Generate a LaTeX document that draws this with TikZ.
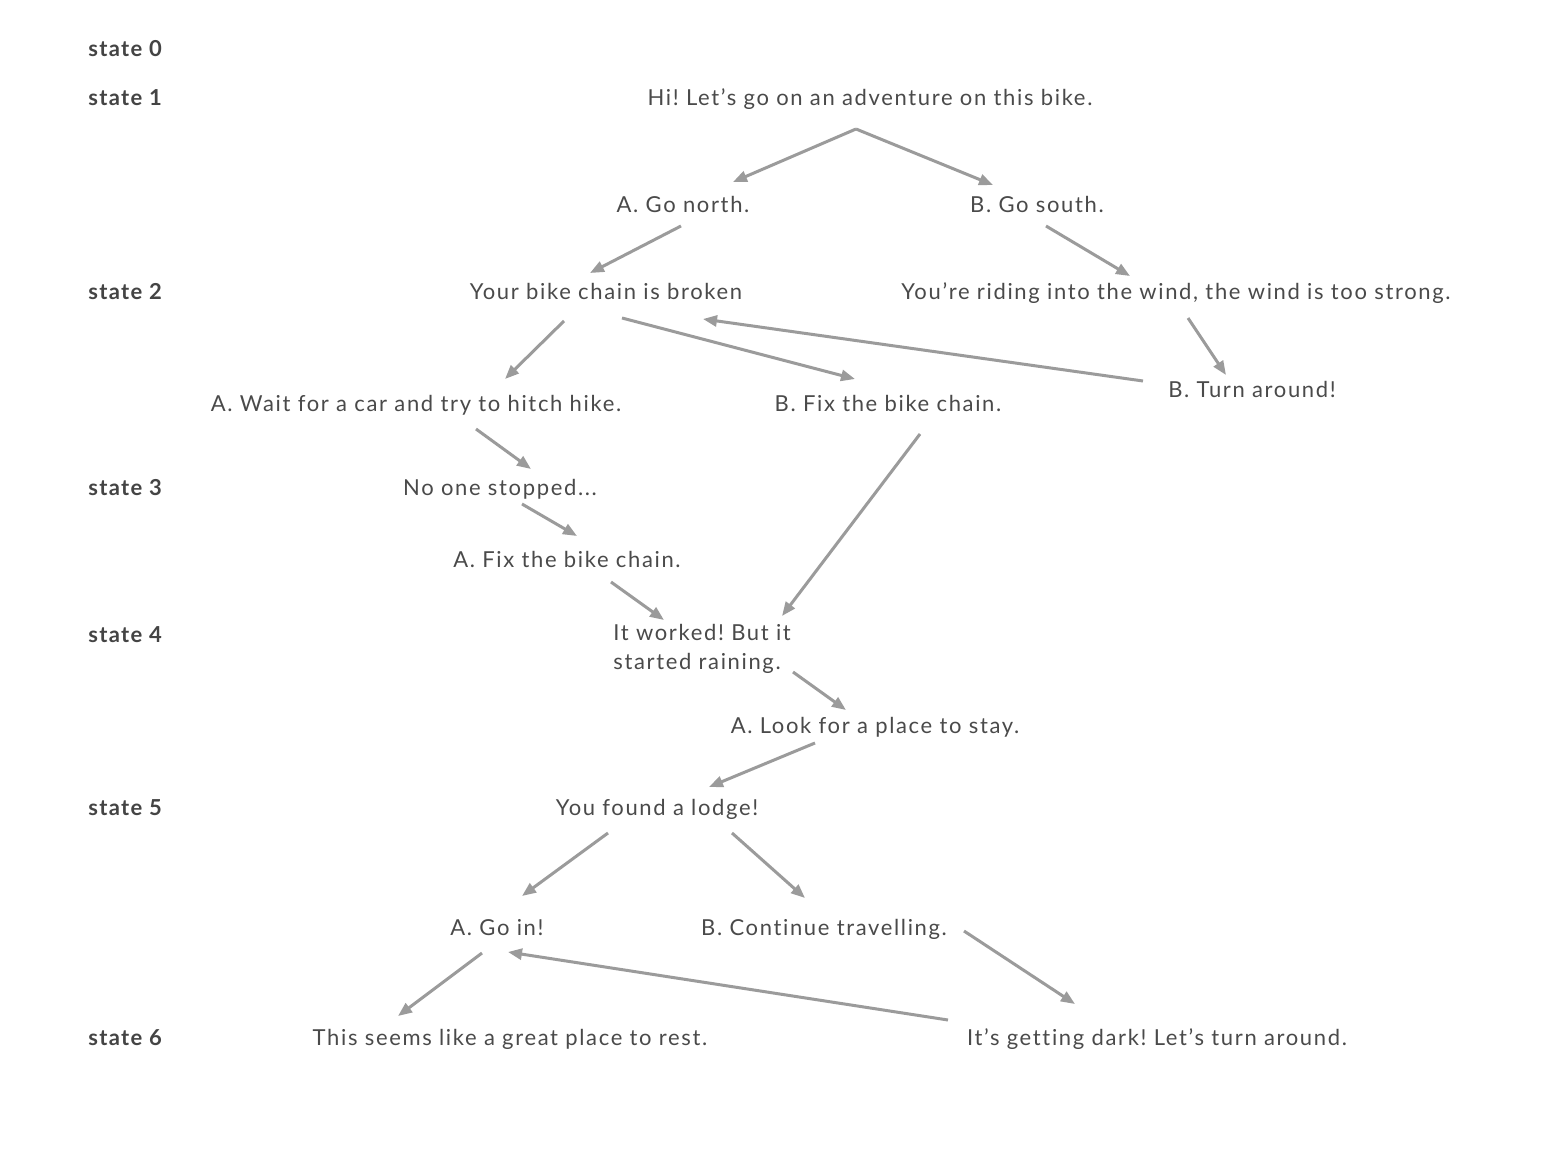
\documentclass[tikz,border=0pt]{standalone}
\usepackage{fontspec}
\setmainfont{Lato}[Ligatures={NoCommon},LetterSpace=7.5]
\frenchspacing
\usetikzlibrary{arrows.meta}
\definecolor{txt}{HTML}{4A4A4A}
\definecolor{lbl}{HTML}{444444}
\definecolor{edge}{HTML}{9B9B9B}
\begin{document}
\begin{tikzpicture}[x=0.5pt,y=-0.5pt,
  txtnode/.style={inner sep=0pt,text=txt,font=\fontsize{11}{14.5}\selectfont,anchor=base},
  statelbl/.style={inner sep=0pt,text=lbl,font=\fontsize{11}{14.5}\selectfont\addfontfeatures{LetterSpace=6}\bfseries,anchor=base west},
  link/.style={draw=edge,line width=1.5pt,-{Triangle[length=7pt,width=5.5pt]}}]
\useasboundingbox[fill=white] (0,0) rectangle (1543,1172);

% level labels
\node[statelbl] (s0) at (88,57) {state 0};
\node[statelbl] (s1) at (88,106) {state 1};
\node[statelbl] (s2) at (88,299) {state 2};
\node[statelbl] (s3) at (88,495) {state 3};
\node[statelbl] (s4) at (88,642) {state 4};
\node[statelbl] (s5) at (88,815) {state 5};
\node[statelbl] (s6) at (88,1045) {state 6};

% story texts
\node[txtnode] (hi) at (870,106) {Hi! Let’s go on an adventure on this bike.};
\node[txtnode] (north) at (683,213) {A. Go north.};
\node[txtnode] (south) at (1037,213) {B. Go south.};
\node[txtnode] (chain) at (606,299) {Your bike chain is broken};
\node[txtnode] (wind) at (1176,299) {You’re riding into the wind, the wind is too strong.};
\node[txtnode] (wait) at (416,411) {A. Wait for a car and try to hitch hike.};
\node[txtnode] (fixB) at (888,411) {B. Fix the bike chain.};
\node[txtnode] (turn) at (1252,397) {B. Turn around!};
\node[txtnode] (noone) at (500,495) {No one stopped...};
\node[txtnode] (fixA) at (567,567) {A. Fix the bike chain.};
\node[txtnode,anchor=west,align=left] (worked) at (613,649) {It worked! But it\\started raining.};
\node[txtnode] (look) at (875,733) {A. Look for a place to stay.};
\node[txtnode] (lodge) at (657,815) {You found a lodge!};
\node[txtnode] (goin) at (497,935) {A. Go in!};
\node[txtnode] (cont) at (824,935) {B. Continue travelling.};
\node[txtnode] (rest) at (510,1045) {This seems like a great place to rest.};
\node[txtnode] (dark) at (1157,1045) {It’s getting dark! Let’s turn around.};

% transitions
\draw[link] ([shift={(-14,23)}]hi.base) -- ([shift={(50,-31)}]north.base);
\draw[link] ([shift={(-14,23)}]hi.base) -- ([shift={(-44,-28)}]south.base);
\draw[link] ([shift={(-2,13)}]north.base) -- ([shift={(-16,-26)}]chain.base);
\draw[link] ([shift={(9,13)}]south.base) -- ([shift={(-46,-23)}]wind.base);
\draw[link] ([shift={(-42,22)}]chain.base) -- ([shift={(89,-32)}]wait.base);
\draw[link] ([shift={(16,19)}]chain.base) -- ([shift={(-33,-32)}]fixB.base);
\draw[link] ([shift={(-109,-16)}]turn.base) -- ([shift={(97,20)}]chain.base);
\draw[link] ([shift={(12,19)}]wind.base) -- ([shift={(-26,-22)}]turn.base);
\draw[link] ([shift={(60,18)}]wait.base) -- ([shift={(31,-26)}]noone.base);
\draw[link] ([shift={(22,9)}]noone.base) -- ([shift={(10,-31)}]fixA.base);
\draw[link] ([shift={(44,15)}]fixA.base) -- ([shift={(51,-29)}]worked.west);
\draw[link] ([shift={(32,23)}]fixB.base) -- ([shift={(169,-33)}]worked.west);
\draw[link] ([shift={(180,23)}]worked.west) -- ([shift={(-29,-23)}]look.base);
\draw[link] ([shift={(-60,10)}]look.base) -- ([shift={(52,-28)}]lodge.base);
\draw[link] ([shift={(-49,18)}]lodge.base) -- ([shift={(25,-39)}]goin.base);
\draw[link] ([shift={(75,18)}]lodge.base) -- ([shift={(-19,-37)}]cont.base);
\draw[link] ([shift={(-15,18)}]goin.base) -- ([shift={(-112,-29)}]rest.base);
\draw[link] ([shift={(140,-4)}]cont.base) -- ([shift={(-82,-41)}]dark.base);
\draw[link] ([shift={(-209,-25)}]dark.base) -- ([shift={(11,17)}]goin.base);
\end{tikzpicture}
\end{document}
